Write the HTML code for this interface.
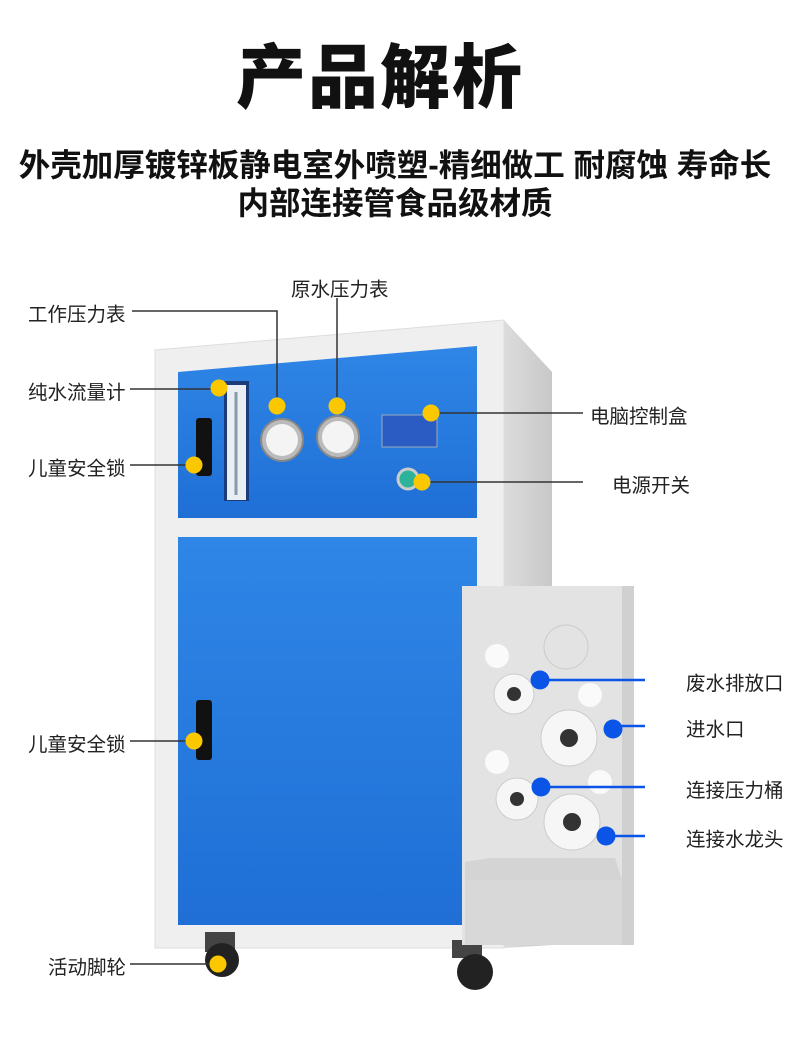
<!DOCTYPE html>
<html><head><meta charset="utf-8"><style>
body{margin:0;width:790px;height:1052px;background:#fff;position:relative;overflow:hidden;font-family:"Liberation Sans","Noto Sans CJK SC",sans-serif;}
.t{position:absolute;white-space:nowrap;color:#222;font-size:19.5px}
</style></head><body>
<div class="t" style="left:0;width:760px;text-align:center;top:22px;font-size:70px;font-weight:900;color:#111;letter-spacing:2px">产品解析</div>
<div class="t" style="left:0;width:790px;text-align:center;top:140px;font-size:31.5px;font-weight:700;color:#111">外壳加厚镀锌板静电室外喷塑-精细做工 耐腐蚀 寿命长</div>
<div class="t" style="left:0;width:790px;text-align:center;top:178px;font-size:31.5px;font-weight:700;color:#111">内部连接管食品级材质</div>

<svg width="790" height="1052" style="position:absolute;left:0;top:0">
<defs>
<linearGradient id="bl" x1="0" y1="0" x2="0" y2="1"><stop offset="0" stop-color="#2f86e6"/><stop offset="1" stop-color="#1f6fd6"/></linearGradient>
<linearGradient id="sd" x1="0" y1="0" x2="1" y2="0"><stop offset="0" stop-color="#dcdcdc"/><stop offset="1" stop-color="#c8c8c8"/></linearGradient>
</defs>
<polygon points="504,320 552,372 552,945 504,948" fill="url(#sd)"/>
<polygon points="155,350 504,320 504,948 155,948" fill="#efefef" stroke="#ddd"/>
<polygon points="178,372 477,346 477,518 178,518" fill="url(#bl)"/>
<rect x="178" y="537" width="299" height="388" fill="url(#bl)"/>
<rect x="224" y="381" width="25" height="120" fill="#1a3c7a"/>
<rect x="227" y="385" width="19" height="115" fill="#e8eef2"/>
<line x1="236" y1="392" x2="236" y2="495" stroke="#8899aa" stroke-width="3"/>
<rect x="196" y="418" width="16" height="58" rx="3" fill="#111"/>
<rect x="196" y="700" width="16" height="60" rx="3" fill="#111"/>
<circle cx="282" cy="440" r="21" fill="#bbb" stroke="#888" stroke-width="2"/><circle cx="282" cy="440" r="16" fill="#f4f4f4"/>
<circle cx="338" cy="437" r="21" fill="#bbb" stroke="#888" stroke-width="2"/><circle cx="338" cy="437" r="16" fill="#f4f4f4"/>
<rect x="382" y="415" width="55" height="32" fill="#2a5cc4" stroke="#9ab" />
<circle cx="408" cy="479" r="10" fill="#2cb39a" stroke="#ccc" stroke-width="3"/>
<rect x="205" y="932" width="30" height="20" fill="#444"/><circle cx="222" cy="960" r="17" fill="#222"/>
<rect x="452" y="940" width="30" height="18" fill="#444"/><circle cx="475" cy="972" r="18" fill="#222"/>
<rect x="462" y="586" width="172" height="359" fill="#e3e3e3"/>
<rect x="622" y="586" width="12" height="359" fill="#d0d0d0"/>
<polygon points="465,862 490,858 615,858 622,880 465,880" fill="#d4d4d4"/>
<rect x="465" y="880" width="157" height="65" fill="#d8d8d8"/>
<circle cx="566" cy="647" r="22" fill="none" stroke="#ccc"/>
<circle cx="497" cy="656" r="12" fill="#fafafa"/><circle cx="590" cy="695" r="12" fill="#fafafa"/>
<circle cx="497" cy="762" r="12" fill="#fafafa"/><circle cx="600" cy="782" r="12" fill="#fafafa"/>
<g fill="#f6f6f6" stroke="#ccc">
<circle cx="514" cy="694" r="20"/><circle cx="569" cy="738" r="28"/>
<circle cx="517" cy="799" r="21"/><circle cx="572" cy="822" r="28"/></g>
<g fill="#333"><circle cx="514" cy="694" r="7"/><circle cx="569" cy="738" r="9"/><circle cx="517" cy="799" r="7"/><circle cx="572" cy="822" r="9"/></g>
<g stroke="#333" stroke-width="1.5" fill="none">
<polyline points="132,311 277,311 277,397"/>
<line x1="337" y1="298" x2="337" y2="397"/>
<line x1="130" y1="389" x2="213" y2="389"/>
<line x1="130" y1="465" x2="190" y2="465"/>
<line x1="437" y1="413" x2="583" y2="413"/>
<line x1="428" y1="482" x2="583" y2="482"/>
<line x1="130" y1="741" x2="190" y2="741"/>
<line x1="130" y1="964" x2="213" y2="964"/>
</g>
<g stroke="#0a55e8" stroke-width="2.5">
<line x1="545" y1="680" x2="645" y2="680"/><line x1="618" y1="726" x2="645" y2="726"/>
<line x1="545" y1="787" x2="645" y2="787"/><line x1="610" y1="836" x2="645" y2="836"/>
</g>
<g fill="#fbc800">
<circle cx="219" cy="388" r="8.5"/><circle cx="277" cy="406" r="8.5"/><circle cx="337" cy="406" r="8.5"/>
<circle cx="431" cy="413" r="8.5"/><circle cx="194" cy="465" r="8.5"/><circle cx="422" cy="482" r="8.5"/>
<circle cx="194" cy="741" r="8.5"/><circle cx="218" cy="964" r="8.5"/></g>
<g fill="#0a55e8">
<circle cx="540" cy="680" r="9.5"/><circle cx="613" cy="729" r="9.5"/>
<circle cx="541" cy="787" r="9.5"/><circle cx="606" cy="836" r="9.5"/></g>
</svg>

<div class="t" style="left:28px;top:298px">工作压力表</div>
<div class="t" style="left:291px;top:273px">原水压力表</div>
<div class="t" style="left:28px;top:376px">纯水流量计</div>
<div class="t" style="left:28px;top:452px">儿童安全锁</div>
<div class="t" style="left:590px;top:400px">电脑控制盒</div>
<div class="t" style="left:612px;top:469px">电源开关</div>
<div class="t" style="left:28px;top:728px">儿童安全锁</div>
<div class="t" style="left:48px;top:951px">活动脚轮</div>
<div class="t" style="left:686px;top:667px">废水排放口</div>
<div class="t" style="left:686px;top:713px">进水口</div>
<div class="t" style="left:686px;top:774px">连接压力桶</div>
<div class="t" style="left:686px;top:823px">连接水龙头</div>
</body></html>
